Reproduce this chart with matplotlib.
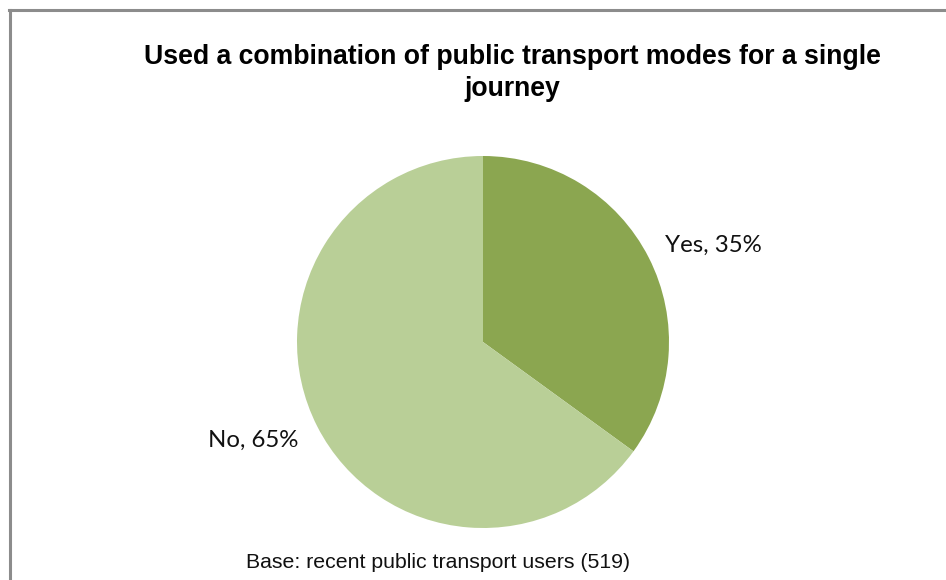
import matplotlib
matplotlib.use("Agg")
import matplotlib.pyplot as plt
from matplotlib.lines import Line2D

labels = ["Yes", "No"]
shares = [35, 65]
colors = ["#8BA650", "#B9CF97"]
title = "Used a combination of public transport modes for a single\njourney"
base_note = "Base: recent public transport users (519)"

fig = plt.figure(figsize=(9.46, 5.8), dpi=100)
fig.patch.set_facecolor("white")

# chart area frame (left and top edges)
fig.add_artist(Line2D([9.5 / 946, 9.5 / 946], [0, 1 - 10 / 580], transform=fig.transFigure,
                      color="#8C8C8C", lw=2.2))
fig.add_artist(Line2D([8.5 / 946, 1], [1 - 10 / 580, 1 - 10 / 580], transform=fig.transFigure,
                      color="#8C8C8C", lw=2.2))

# pie centred at (483, 342) px with radius ~186 px
cx, cy, r = 483, 342, 186
ax = fig.add_axes([(cx - r) / 946, 1 - (cy + r) / 580, 2 * r / 946, 2 * r / 580])
ax.pie(shares, colors=colors, startangle=90, counterclock=False,
       wedgeprops=dict(linewidth=0), radius=1.0)
ax.set_xlim(-1, 1)
ax.set_ylim(-1, 1)
ax.set_aspect("auto")
ax.axis("off")

lab_font = dict(family=["Lato", "DejaVu Sans"], fontsize=17.3, color="#111111")
fig.text(665 / 946, 1 - 245 / 580, f"{labels[0]}, {shares[0]}%", ha="left", va="center", **lab_font)
fig.text(298 / 946, 1 - 440 / 580, f"{labels[1]}, {shares[1]}%", ha="right", va="center", **lab_font)

fig.text(512 / 946, 1 - 73 / 580, title, ha="center", va="center", fontsize=19.2,
         fontweight="bold", family=["Liberation Sans", "DejaVu Sans"], linespacing=1.3)

fig.text(438 / 946, 1 - 563 / 580, base_note, ha="center", va="center", fontsize=15.3,
         family=["Liberation Sans", "DejaVu Sans"], color="#111111")

fig.savefig("out.png", dpi=100, facecolor="white")
